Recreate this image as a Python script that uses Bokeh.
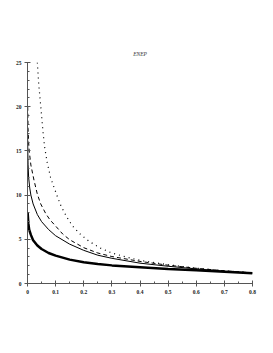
from bokeh.plotting import figure
from bokeh.models import FixedTicker, Range1d
from bokeh.embed import file_html
from bokeh.resources import INLINE

title_text = "ENEP"

x_ticks = [0, 0.1, 0.2, 0.3, 0.4, 0.5, 0.6, 0.7, 0.8]
x_tick_labels = ["0", "0.1", "0.2", "0.3", "0.4", "0.5", "0.6", "0.7", "0.8"]
y_ticks = [0, 5, 10, 15, 20, 25]
y_tick_labels = ["0", "5", "10", "15", "20", "25"]

thick_x = [0.0005, 0.003, 0.006, 0.012, 0.02, 0.035, 0.05, 0.075, 0.1, 0.15, 0.2, 0.25, 0.3, 0.4, 0.5, 0.6, 0.7, 0.8]
thick_y = [8.0, 6.8, 6.1, 5.5, 4.9, 4.3, 3.9, 3.45, 3.15, 2.7, 2.4, 2.2, 2.05, 1.85, 1.65, 1.5, 1.32, 1.15]

thin_x = [0.0005, 0.001, 0.002, 0.004, 0.008, 0.012, 0.02, 0.035, 0.05, 0.075, 0.1, 0.15, 0.2, 0.25, 0.3, 0.4, 0.5, 0.6, 0.7, 0.8]
thin_y = [16.5, 15.0, 13.5, 12.0, 10.8, 10.0, 9.0, 7.8, 7.0, 6.1, 5.4, 4.45, 3.75, 3.2, 2.85, 2.3, 1.95, 1.65, 1.4, 1.18]

dash_x = [0.0008, 0.002, 0.004, 0.006, 0.012, 0.023, 0.035, 0.047, 0.065, 0.08, 0.1, 0.125, 0.15, 0.2, 0.25, 0.3, 0.4, 0.5, 0.6, 0.7, 0.8]
dash_y = [20.0, 17.5, 16.0, 15.0, 13.4, 11.7, 10.1, 9.0, 7.9, 7.2, 6.5, 5.6, 4.95, 4.05, 3.45, 3.05, 2.5, 2.07, 1.72, 1.44, 1.2]

dot_x = [0.035, 0.04, 0.047, 0.055, 0.061, 0.07, 0.082, 0.094, 0.11, 0.12, 0.14, 0.16, 0.19, 0.22, 0.26, 0.3, 0.35, 0.4, 0.5, 0.6, 0.7, 0.8]
dot_y = [25.0, 22.5, 20.1, 17.2, 15.4, 13.7, 12.0, 10.9, 9.5, 8.7, 7.5, 6.5, 5.5, 4.75, 4.0, 3.45, 3.0, 2.62, 2.12, 1.73, 1.44, 1.2]

p = figure(width=265, height=345, output_backend="svg", toolbar_location=None,
           x_range=Range1d(0, 0.8), y_range=Range1d(0, 25),
           min_border_left=27, min_border_right=13, min_border_top=62, min_border_bottom=62)
p.outline_line_color = None
p.xgrid.visible = False
p.ygrid.visible = False
p.background_fill_color = "white"
p.border_fill_color = "white"

p.title.text = title_text
p.title.align = "center"
p.title.offset = -4
p.title.standoff = 11
p.title.text_font = "Liberation Serif"
p.title.text_font_style = "italic"
p.title.text_font_size = "5.5px"
p.title.text_color = "#333333"

p.line(thick_x, thick_y, line_color="black", line_width=2.5)
p.line(thin_x, thin_y, line_color="black", line_width=1)
p.line(dash_x, dash_y, line_color="black", line_width=1, line_dash="4 3")
p.line(dot_x, dot_y, line_color="black", line_width=1.2, line_dash="1 4")

for ax, ticks, labels in ((p.xaxis[0], x_ticks, x_tick_labels), (p.yaxis[0], y_ticks, y_tick_labels)):
    ax.ticker = FixedTicker(ticks=ticks,
                            minor_ticks=[t / 100 for t in range(0, 81, 5)] if ax is p.xaxis[0] else list(range(0, 26)))
    ax.major_label_overrides = {t: l for t, l in zip(ticks, labels)}
    ax.axis_line_color = "#555555"
    ax.major_tick_line_color = "#555555"
    ax.minor_tick_line_color = "#555555"
    ax.major_tick_in = 3
    ax.major_tick_out = 3
    ax.minor_tick_in = 2
    ax.minor_tick_out = 0
    ax.major_label_text_font = "Liberation Serif"
    ax.major_label_text_font_size = "5.5px"
    ax.major_label_text_font_style = "bold"
    ax.major_label_text_color = "#222222"
    ax.major_label_standoff = 3

open("out.html", "w").write(file_html(p, INLINE))
